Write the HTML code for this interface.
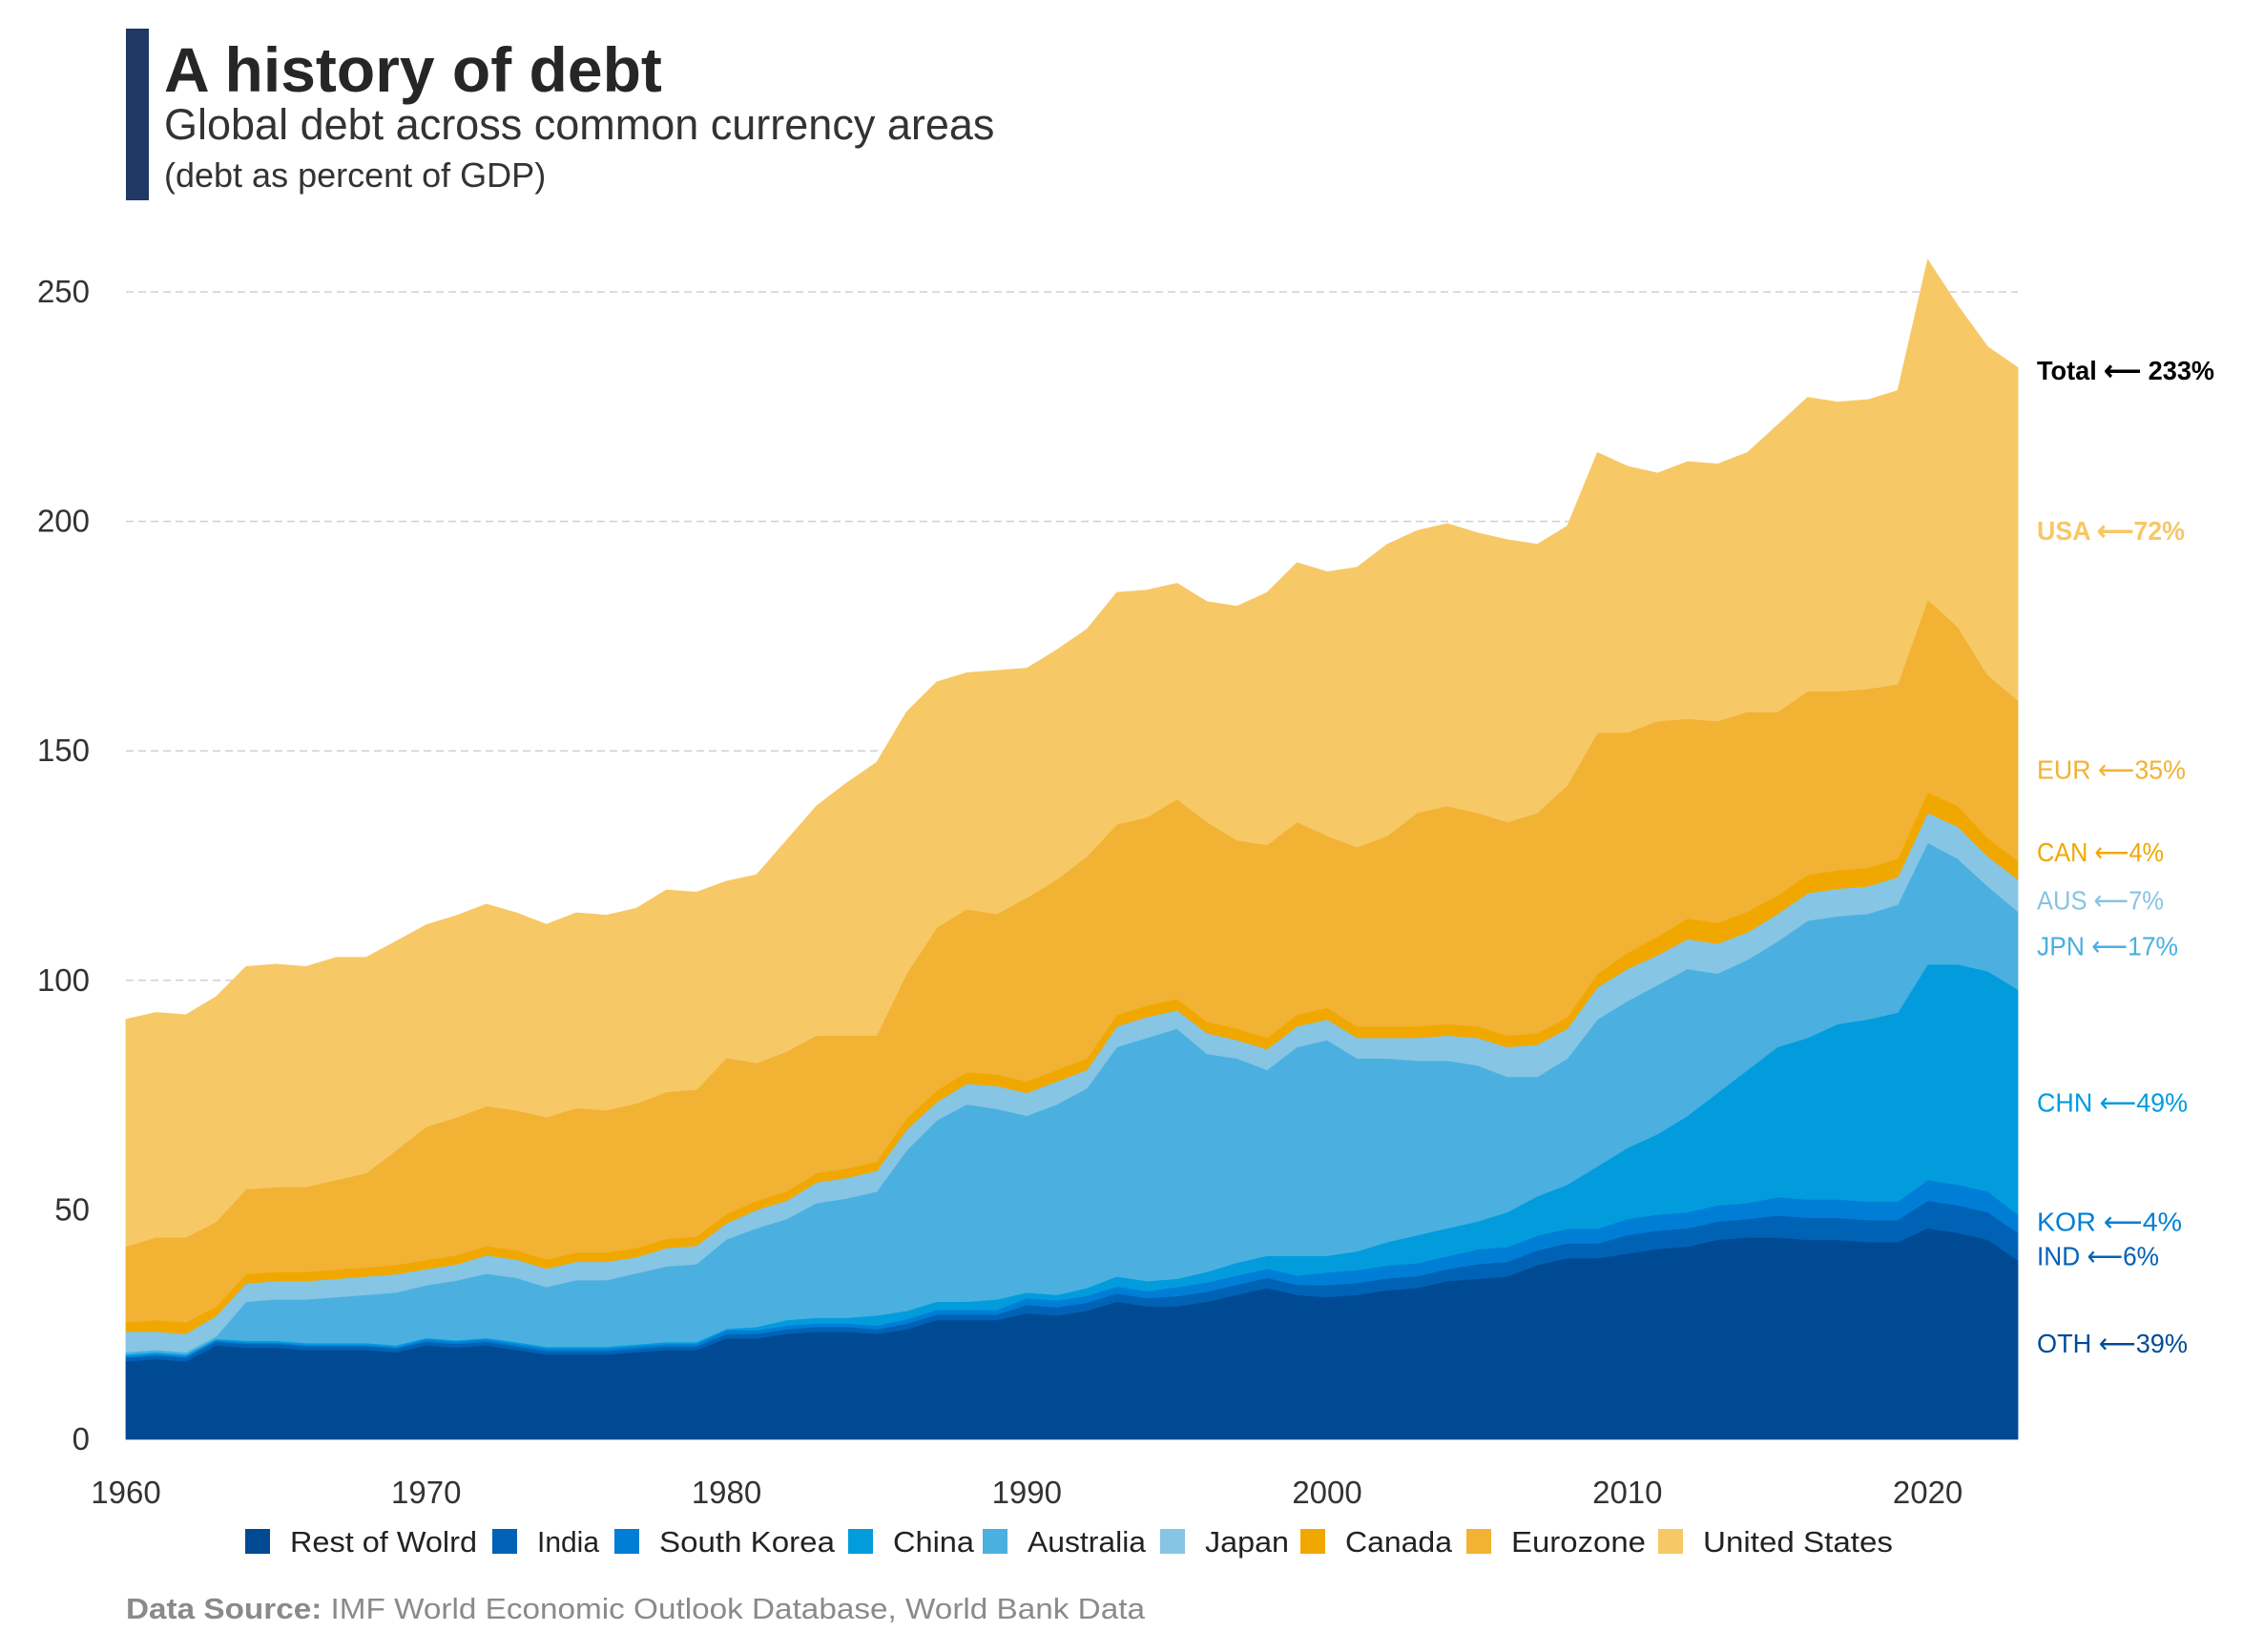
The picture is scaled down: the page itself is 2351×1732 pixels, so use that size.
<!DOCTYPE html>
<html><head><meta charset="utf-8"><style>
body{margin:0;background:#fff;}
svg{display:block;font-family:"Liberation Sans",Arial,sans-serif;}
</style></head><body>
<svg id="chart" width="2351" height="1732" viewBox="0 0 2351 1732" xmlns="http://www.w3.org/2000/svg">
<rect x="132" y="30" width="24" height="180" fill="#1f3864"/>
<text x="172" y="96" font-size="66" font-weight="bold" fill="#262626">A history of debt</text>
<text x="172" y="146" font-size="45" fill="#333">Global debt across common currency areas</text>
<text x="172" y="196" font-size="36" fill="#333">(debt as percent of GDP)</text>
<g id="grid"></g><g id="areas"></g><g id="axes"></g><g id="labels"></g><g id="legend"></g>
<text x="132" y="1697" font-size="31" fill="#8a8a8a" textLength="1068" lengthAdjust="spacingAndGlyphs"><tspan font-weight="bold">Data Source:</tspan> IMF World Economic Outlook Database, World Bank Data</text>
</svg>
<script>
const years = Array.from({length:64},(_, i)=>1960+i);
const oth = [17,17.5,17,20.5,20,20,19.5,19.5,19.5,19,20.5,20,20.5,19.5,18.5,18.5,18.5,19,19.5,19.5,22,22,23,23.5,23.5,23,24,26,26,26,27.5,27,28,30,29,29,30,31.5,33,31.5,31,31.5,32.5,33,34.5,35,35.5,38,39.5,39.5,40.5,41.5,42,43.5,44,44,43.5,43.5,43,43,46,45,43.5,39];
const ind = [0.8,0.8,0.8,0.8,0.8,0.8,0.8,0.8,0.8,0.8,0.8,0.8,0.8,0.8,0.8,0.8,0.8,0.8,0.8,0.8,1,1,1,1,1,1,1.2,1.2,1.2,1.2,1.8,1.8,1.8,1.8,1.8,2.2,2.2,2.2,2.2,2.2,2.6,2.6,2.6,2.6,2.6,3.2,3.2,3.2,3.2,3.2,4,4,4,4,4,4.8,4.8,4.8,4.8,4.8,6,6,6,6];
const kor = [0.3,0.3,0.3,0.3,0.3,0.3,0.3,0.3,0.3,0.3,0.5,0.5,0.5,0.5,0.5,0.5,0.5,0.5,0.5,0.5,0.8,0.8,0.8,0.8,0.8,0.8,1,1,1,1,1.5,1.5,1.5,1.5,1.5,2,2,2,2,2,2.8,2.8,2.8,2.8,2.8,3.2,3.2,3.2,3.2,3.2,3.5,3.5,3.5,3.5,3.5,4,4,4,4,4,4.5,4.5,4.5,4];
const chn = [0.4,0.4,0.4,0.3,0.4,0.4,0.4,0.4,0.4,0.4,0.3,0.3,0.3,0.4,0.4,0.4,0.4,0.4,0.4,0.4,0.3,0.7,1.2,1.2,1.2,2.2,1.8,1.8,1.8,2.3,1.2,1.2,1.7,2.2,2.2,1.8,2.3,2.8,2.8,4.3,3.6,4.1,5.1,6.1,6.1,6.1,7.6,8.6,9.6,13.6,15.5,17.5,21,24.5,29,32.7,35.2,38.2,39.7,41.2,47,48,48,49];
const aus = [0.5,0.5,0.5,0.5,8.5,9,9.5,10,10.5,11.5,11.5,13,14,14,13,14.5,14.5,15.5,16.5,17,19.5,21.5,22,25,26,27,35,39.5,43,41.5,38.5,41.5,43.5,50,53,54.5,47.5,44.5,40.5,45.5,47,42,40,38,36.5,34,29.5,26,27.5,32,32,32.5,32,26,24,23,25.5,23.5,23,23.5,26.5,23,18.5,17];
const jpn = [4.5,4,4,4.5,4,4,4,4,4,4,3.5,3.5,4,4,4,4,4,3.5,4,4,3.5,4,4,4.5,4.5,4.5,4.5,4,4.5,5,5,5,4,4.5,4.5,4,4.5,4,4.5,4.5,4.5,4.5,4.5,5,5.5,6,6.5,7,6.5,7,7,6.5,6.5,6.5,6,6,6,6,6,6,6.5,7,6.5,7];
const can = [2,2.5,2.5,2,2,2,2,2,2,2,2,2,2,2,2,2,2,2,2,2,2,2,2,2,2,2,2.5,2.5,2.5,2.5,2.5,2.5,2.5,2.5,2.5,2.5,2.5,2.5,2.5,2.5,2.5,2.5,2.5,2.5,2.5,2.5,2.5,2.5,2.5,3,3.5,4,4.5,4.5,4.5,4,4,4,4,4,4.5,4.5,4,4];
const eur = [16.5,18,18.5,18.5,18.5,18.5,18.5,19.5,20.5,25,29,30,30.5,30.5,31,31.5,31,31.5,32,32,34,30,30.5,30,29,27.5,31.5,35.5,35.5,35,40,41.5,44,41.5,41,43.5,43.5,41,42,42,37.5,39,41.5,46.5,47.5,46.5,46.5,48,50.5,52.5,48,47,43.5,44,43.5,40,40,39,39,38,42,39,35.5,35];
const usa = [49.5,49,48.5,49,48.5,48.5,48,48.5,47,45.5,44,44,44,43,42,42.5,42.5,42.5,44,43,38.5,41,46,50,55,59.5,57,53.5,51.5,53,50,50,49.5,50.5,49.5,47,48,51,55,56.5,57.5,61,63.5,61.5,61.5,61,61.5,58.5,56.5,61,58,54,56,56,56.5,62.5,64,63,63,64,74,70,71.5,72.5];
const seriesNames = ["Rest of Wolrd","India","South Korea","China","Australia","Japan","Canada","Eurozone","United States"];
const yTicks = [0,50,100,150,200,250];
const xTicks = [1960,1970,1980,1990,2000,2010,2020];
const endLabels = [["Total ⟵ 233%",233],["USA ⟵72%",198],["EUR ⟵35%",146],["CAN ⟵4%",128],["AUS ⟵7%",117.5],["JPN ⟵17%",107.5],["CHN ⟵49%",73.5],["KOR ⟵4%",47.5],["IND ⟵6%",40],["OTH ⟵39%",21]];

const series=[oth,ind,kor,chn,aus,jpn,can,eur,usa];
const colors=["#004a94","#0062b5","#007ed6","#029cdd","#4bb0e0","#86c5e3","#f0a800","#f2b233","#f7c866"];
const keys=["oth","ind","kor","chn","aus","jpn","can","eur","usa"];
const labelColors=["#000","#f7c766","#f2b233","#f0a800","#87c4e2","#4aafe0","#009bde","#007fd6","#0062b8","#004b96"];
const labelW=[186,155,156,133,133,148,158,152,128,158];
const X0=132,X1=2115,Y0=1509,YT=306;
const xs=y=>X0+(y-1960)*(X1-X0)/63;
const ys=v=>Y0-v*(Y0-YT)/250;
const NS="http://www.w3.org/2000/svg";
function mk(tag,attrs,parent){const e=document.createElementNS(NS,tag);for(const k in attrs)e.setAttribute(k,attrs[k]);parent.appendChild(e);return e;}
const grid=document.getElementById('grid'),areas=document.getElementById('areas'),axes=document.getElementById('axes'),labels=document.getElementById('labels'),legend=document.getElementById('legend');
yTicks.forEach(t=>{
  if(t>0){const l=mk('line',{x1:X0,x2:X1,y1:ys(t),y2:ys(t),stroke:'#d0d0d0','stroke-width':1.5,'stroke-dasharray':'8,5'},grid);
  
  }
  const tx=mk('text',{x:94,y:ys(t)+11,'font-size':33,'text-anchor':'end',fill:'#333'},axes);tx.textContent=t;
  
  
});
xTicks.forEach(t=>{
  const tx=mk('text',{x:xs(t),y:1576,'font-size':33,'text-anchor':'middle',fill:'#333'},axes);tx.textContent=t;
  
  
});
let base=years.map(()=>0);
series.forEach((s,i)=>{
  const top=base.map((b,j)=>b+s[j]);
  let d='M'+years.map((y,j)=>xs(y)+','+ys(top[j])).join('L');
  for(let j=years.length-1;j>=0;j--)d+='L'+xs(years[j])+','+ys(base[j]);
  d+='Z';
  const p=mk('path',{d:d,fill:colors[i],stroke:colors[i],'stroke-width':0.8},areas);
  
  
  base=top;
});
endLabels.forEach((l,i)=>{
  const t=mk('text',{x:2135,y:ys(l[1])+10,'font-size':28,fill:labelColors[i],'font-weight':i<2?'bold':'normal',textLength:labelW[i],lengthAdjust:'spacingAndGlyphs'},labels);t.textContent=l[0];
  
  
});
const legX=[257,516,644,889,1030,1216,1363,1537,1738];
const legTW=[196,65,184,85,124,88,112,141,199];
seriesNames.forEach((n,i)=>{
  const g=mk('g',{},legend);
  
  
  mk('rect',{x:legX[i],y:1603,width:26,height:26,fill:colors[i]},g);
  const t=mk('text',{x:legX[i]+47,y:1627,'font-size':31,fill:'#222',textLength:legTW[i],lengthAdjust:'spacingAndGlyphs'},g);t.textContent=n;
});
</script>
</body></html>
